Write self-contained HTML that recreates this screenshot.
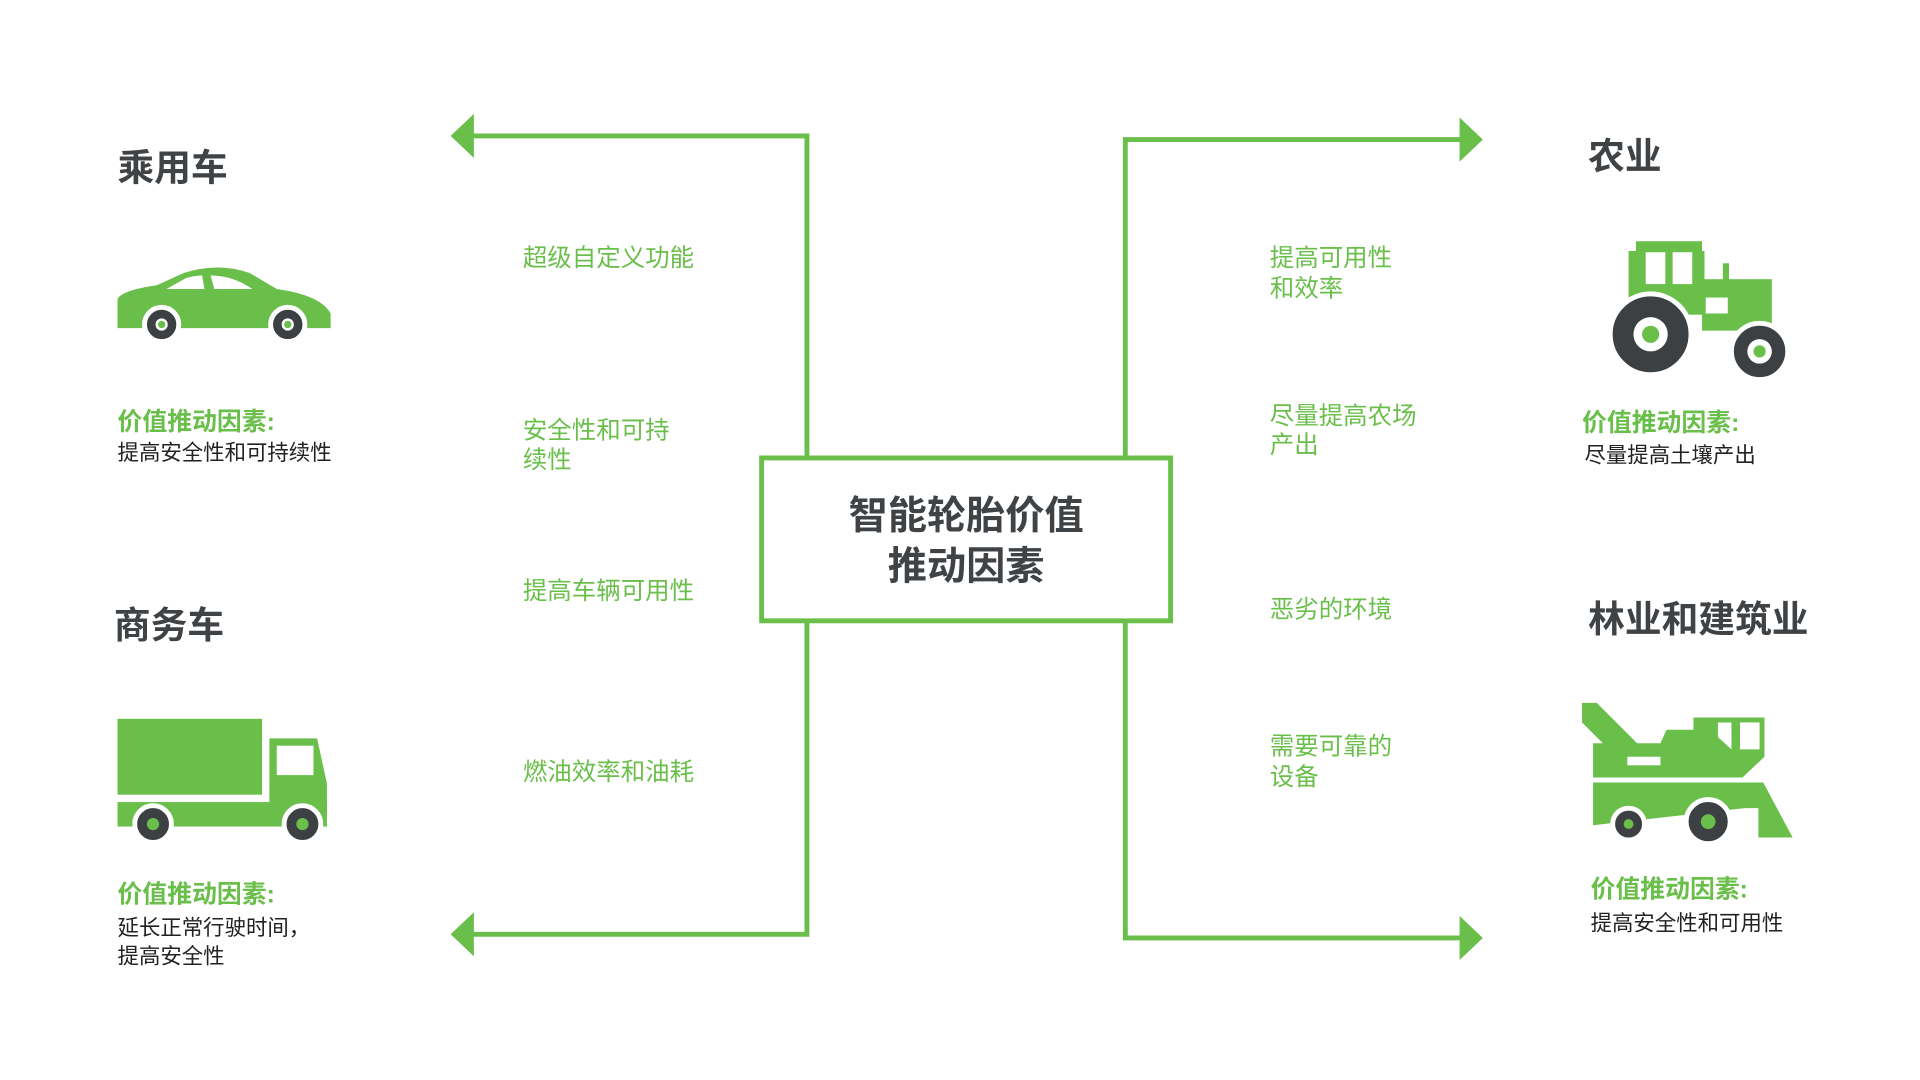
<!DOCTYPE html>
<html><head><meta charset="utf-8"><style>
html,body{margin:0;padding:0;background:#fff;width:1920px;height:1080px;overflow:hidden}
svg{display:block}
text{font-family:"Liberation Sans","Noto Sans CJK SC",sans-serif;dominant-baseline:central}
.g{fill:#6abf4b}
.lbl{fill:#6abf4b;font-size:20px}
.h{fill:#3f4346;font-size:30px;font-weight:bold}
.vt{fill:#6abf4b;font-size:20.3px;font-weight:bold}
.vd{fill:#222;font-size:17.5px}
</style></head><body>
<svg width="1920" height="1080" viewBox="0 0 1568 882">
<g fill="none" stroke="#6abf4b" stroke-width="4">
<polyline points="380,111 659,111 659,373"/>
<polyline points="380,763 659,763 659,508"/>
<polyline points="1195,114 919,114 919,373"/>
<polyline points="1195,766 919,766 919,508"/>
<rect x="622" y="374" width="334" height="133"/>
</g>
<g class="g">
<polygon points="368,111 387,93 387,129"/>
<polygon points="368,763 387,745 387,781"/>
<polygon points="1211,114 1192,96 1192,132"/>
<polygon points="1211,766 1192,748 1192,784"/>
</g>
<text x="789" y="422" text-anchor="middle" style="font-size:32px;font-weight:bold;fill:#3f4346">智能轮胎价值</text>
<text x="789" y="463" text-anchor="middle" style="font-size:32px;font-weight:bold;fill:#3f4346">推动因素</text>

<text class="lbl" x="427" y="211">超级自定义功能</text>
<text class="lbl" x="427" y="352">安全性和可持</text>
<text class="lbl" x="427" y="376">续性</text>
<text class="lbl" x="427" y="483">提高车辆可用性</text>
<text class="lbl" x="427" y="631">燃油效率和油耗</text>
<text class="lbl" x="1037" y="211">提高可用性</text>
<text class="lbl" x="1037" y="236">和效率</text>
<text class="lbl" x="1037" y="340">尽量提高农场</text>
<text class="lbl" x="1037" y="364">产出</text>
<text class="lbl" x="1037" y="498">恶劣的环境</text>
<text class="lbl" x="1037" y="610">需要可靠的</text>
<text class="lbl" x="1037" y="635">设备</text>

<text class="h" x="96" y="137">乘用车</text>
<text class="h" x="93" y="511">商务车</text>
<text class="h" x="1297" y="128">农业</text>
<text class="h" x="1297" y="506">林业和建筑业</text>

<text class="vt" x="96" y="345">价值推动因素:</text>
<text class="vd" x="96" y="370">提高安全性和可持续性</text>
<text class="vt" x="96" y="731">价值推动因素:</text>
<text class="vd" x="96" y="758">延长正常行驶时间，</text>
<text class="vd" x="96" y="781">提高安全性</text>
<text class="vt" x="1292" y="346">价值推动因素:</text>
<text class="vd" x="1294" y="372">尽量提高土壤产出</text>
<text class="vt" x="1299" y="727">价值推动因素:</text>
<text class="vd" x="1299" y="754">提高安全性和可用性</text>

<!-- car -->
<path class="g" d="M96,268 L96,244 Q100,237 128,233 L150,223 Q178,214 204,223 L226,236 Q262,241 270,256 L270,268 Z"/>
<path fill="#fff" d="M136,236 L152,227 Q160,225 165,225 L167,236 Z M172,225 Q190,225 206,236 L175,236 Z"/>
<g stroke="#fff" stroke-width="4"><circle cx="132" cy="265" r="14" fill="#3c4043"/><circle cx="235" cy="265" r="14" fill="#3c4043"/></g>
<circle cx="132" cy="265" r="5" fill="#fff"/><circle cx="235" cy="265" r="5" fill="#fff"/>
<circle cx="132" cy="265" r="3" class="g"/><circle cx="235" cy="265" r="3" class="g"/>

<!-- truck -->
<rect class="g" x="96" y="587" width="118" height="62"/>
<path class="g" d="M220,603 L259,603 L267,640 L267,675 L220,675 Z"/>
<rect class="g" x="96" y="655" width="171" height="20"/>
<rect fill="#fff" x="226" y="609" width="30" height="24"/>
<g stroke="#fff" stroke-width="4"><circle cx="125" cy="673" r="15" fill="#3c4043"/><circle cx="247" cy="673" r="15" fill="#3c4043"/></g>
<circle cx="125" cy="673" r="5" class="g"/><circle cx="247" cy="673" r="5" class="g"/>

<!-- tractor -->
<rect class="g" x="1336" y="197" width="54" height="8"/>
<rect class="g" x="1330" y="205" width="62" height="52"/>
<rect fill="#fff" x="1344" y="206" width="16" height="26"/><rect fill="#fff" x="1366" y="206" width="16" height="26"/>
<rect class="g" x="1390" y="228" width="57" height="42"/>
<rect class="g" x="1407" y="215" width="5" height="15"/>
<rect fill="#fff" x="1393" y="243" width="18" height="13"/>
<g stroke="#fff" stroke-width="4"><circle cx="1348" cy="273" r="33" fill="#3c4043"/><circle cx="1437" cy="287" r="23" fill="#3c4043"/></g>
<circle cx="1348" cy="273" r="14" fill="#fff"/><circle cx="1348" cy="273" r="7" class="g"/>
<circle cx="1437" cy="287" r="10" fill="#fff"/><circle cx="1437" cy="287" r="5" class="g"/>

<!-- crane -->
<polygon class="g" points="1292,574 1304,574 1337,607 1356,607 1361,596 1383,596 1383,586 1441,586 1441,618 1423,635 1301,635 1301,607 1309,607 1292,590"/>
<polygon fill="#fff" points="1403,590 1414,590 1414,612 1403,602"/>
<rect fill="#fff" x="1421" y="590" width="16" height="22"/>
<rect fill="#fff" x="1329" y="618" width="27" height="7"/>
<polygon class="g" points="1301,639 1440,639 1464,684 1436,684 1436,660 1425,660 1301,674"/>
<g stroke="#fff" stroke-width="4"><circle cx="1330" cy="673" r="13" fill="#3c4043"/><circle cx="1395" cy="671" r="18" fill="#3c4043"/></g>
<circle cx="1330" cy="673" r="4" class="g"/><circle cx="1395" cy="671" r="6" class="g"/>
</svg>
</body></html>
